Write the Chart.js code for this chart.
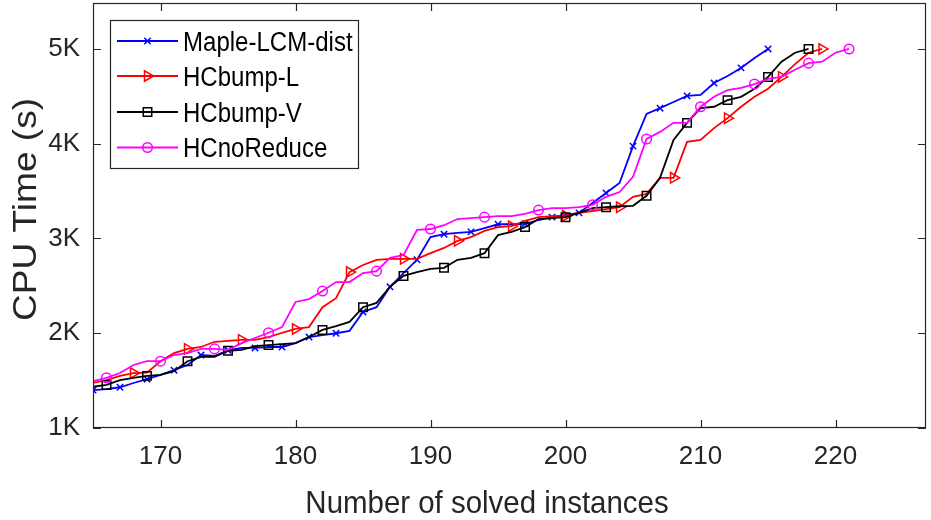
<!DOCTYPE html>
<html><head><meta charset="utf-8">
<script src="https://cdn.jsdelivr.net/npm/chart.js@4.4.1/dist/chart.umd.min.js"></script>
<style>html,body{margin:0;padding:0;background:#fff;overflow:hidden}#wrap{width:931px;height:520px}</style>
</head><body><div id="wrap"><canvas id="c" width="931" height="520"></canvas></div>
<script>
// ---------------- data ----------------
const instances = [165,166,167,168,169,170,171,172,173,174,175,176,177,178,179,180,181,182,183,184,185,186,187,188,189,190,191,192,193,194,195,196,197,198,199,200,201,202,203,204,205,206,207,208,209,210,211,212,213,214,215,216,217,218,219,220,221];
const mapleLCMDist = [1400,1410,1430,1475,1515,1560,1610,1665,1770,1760,1820,1845,1845,1855,1855,1895,1960,1980,2000,2025,2225,2275,2490,2635,2775,3015,3045,3060,3070,3110,3150,3150,3155,3195,3225,3250,3270,3375,3480,3585,3975,4315,4375,4440,4505,4515,4640,4715,4800,4905,5000];
const hcbumpL = [1475,1505,1550,1580,1585,1705,1790,1835,1855,1910,1920,1930,1930,1960,2005,2045,2065,2275,2370,2645,2720,2775,2785,2785,2785,2845,2900,2975,3015,3080,3120,3130,3185,3225,3235,3240,3270,3290,3310,3330,3440,3470,3640,3640,4020,4040,4165,4270,4390,4495,4580,4705,4840,4960,5000];
const hcbumpV = [1435,1455,1505,1530,1550,1560,1600,1705,1750,1750,1815,1825,1865,1875,1885,1895,1960,2035,2075,2120,2275,2320,2490,2605,2645,2680,2690,2775,2795,2845,3035,3070,3120,3205,3215,3225,3270,3320,3330,3340,3345,3450,3640,4040,4220,4375,4390,4460,4495,4580,4705,4865,4960,5000];
const hcnoReduce = [1495,1530,1580,1665,1705,1705,1770,1790,1835,1835,1825,1895,1950,2005,2065,2330,2360,2445,2540,2540,2635,2655,2795,2825,3090,3100,3140,3205,3215,3225,3235,3235,3260,3300,3320,3320,3330,3355,3440,3490,3650,4050,4125,4220,4220,4390,4495,4565,4590,4630,4685,4705,4780,4850,4865,4960,5000];
const seriesNames = ['Maple-LCM-dist','HCbump-L','HCbump-V','HCnoReduce'];
const xTickValues = [170,180,190,200,210,220];
const yTickValues = [1000,2000,3000,4000,5000];
const yTickLabels = ['1K','2K','3K','4K','5K'];
const xTitle = 'Number of solved instances';
const yTitle = 'CPU Time (s)';

// ---------------- styles ----------------
const FONT = "'Liberation Sans', Arial, Helvetica, sans-serif";
const AXIS = '#262626';
const AREA = {left: 93, top: 3, right: 926, bottom: 428};
const styles = [
  {color:'#0000ff', pointStyle:'crossRot', radius:4.5, rotation:0,
   mark:(x,last)=> (x-165)%2===0},
  {color:'#ff0000', pointStyle:'triangle', radius:6, rotation:90,
   mark:(x,last)=> (x-168)%4===0 || x===last},
  {color:'#000000', pointStyle:'rect', radius:6, rotation:0,
   mark:(x,last)=> x<=178 ? (x-166)%3===0 : (x>=182 && (x-182)%3===0)},
  {color:'#ff00ff', pointStyle:'circle', radius:4.8, rotation:0,
   mark:(x,last)=> (x-166)%4===0 || x===last}
];
const seriesValues = [mapleLCMDist, hcbumpL, hcbumpV, hcnoReduce];

const datasets = seriesValues.map((vals, k) => {
  const st = styles[k];
  const pts = vals.map((v, i) => ({x: instances[i], y: v}));
  const last = instances[vals.length - 1];
  return {
    label: seriesNames[k],
    data: pts,
    borderColor: st.color,
    backgroundColor: st.color,
    borderWidth: 1.8,
    tension: 0,
    pointStyle: st.pointStyle,
    pointRotation: st.rotation,
    pointBorderColor: st.color,
    pointBackgroundColor: 'rgba(0,0,0,0)',
    pointBorderWidth: 1.5,
    pointRadius: (c) => (c.raw && st.mark(c.raw.x, last)) ? st.radius : 0,
    pointHoverRadius: 0,
    order: 4 - k
  };
});

function drawScaledText(ctx, text, x, y, sx) {
  ctx.save(); ctx.translate(x, y); ctx.scale(sx, 1); ctx.fillText(text, 0, 0); ctx.restore();
}

const decor = {
  id: 'decor',
  afterDraw(chart) {
    const ctx = chart.ctx, a = chart.chartArea;
    const xs = chart.scales.x, ys = chart.scales.y;
    ctx.save();
    ctx.strokeStyle = AXIS; ctx.lineWidth = 1.2;
    ctx.strokeRect(Math.round(a.left) + 0.5, Math.round(a.top) + 0.5, Math.round(a.right - a.left) - 1, Math.round(a.bottom - a.top) - 1);
    const TL = 8;
    ctx.beginPath();
    xTickValues.forEach(v => {
      const px = Math.round(xs.getPixelForValue(v)) + 0.5;
      ctx.moveTo(px, a.bottom); ctx.lineTo(px, a.bottom - TL);
      ctx.moveTo(px, a.top); ctx.lineTo(px, a.top + TL);
    });
    yTickValues.forEach(v => {
      const py = Math.round(ys.getPixelForValue(v)) + 0.5;
      ctx.moveTo(a.left, py); ctx.lineTo(a.left + TL, py);
      ctx.moveTo(a.right, py); ctx.lineTo(a.right - TL, py);
    });
    ctx.stroke();

    // axis titles
    ctx.fillStyle = AXIS;
    ctx.font = '32px ' + FONT;
    ctx.textAlign = 'center'; ctx.textBaseline = 'alphabetic';
    drawScaledText(ctx, xTitle, 487, 513, 0.92);
    ctx.save();
    ctx.translate(36, 209.5); ctx.rotate(-Math.PI / 2);
    ctx.font = '34px ' + FONT;
    drawScaledText(ctx, yTitle, 0, 0, 1.09);
    ctx.restore();

    // legend
    const L = {x: 110, y: 20, w: 248, h: 148};
    ctx.fillStyle = '#ffffff';
    ctx.fillRect(L.x, L.y, L.w, L.h);
    ctx.strokeStyle = AXIS; ctx.lineWidth = 1.2;
    ctx.strokeRect(L.x + 0.5, L.y + 0.5, L.w, L.h);
    const rows = [41, 76, 112, 147.5];
    ctx.font = '27px ' + FONT;
    ctx.textAlign = 'left';
    seriesNames.forEach((name, k) => {
      const st = styles[k], y = rows[k];
      ctx.strokeStyle = st.color; ctx.lineWidth = 1.8;
      ctx.beginPath(); ctx.moveTo(117, y); ctx.lineTo(178, y); ctx.stroke();
      ctx.lineWidth = 1.5;
      ctx.fillStyle = 'rgba(0,0,0,0)';
      Chart.helpers.drawPoint(ctx, {pointStyle: st.pointStyle, rotation: st.rotation, radius: st.radius, borderWidth: 1.5}, 147.5, y);
      ctx.fillStyle = '#000000';
      drawScaledText(ctx, name, 183, y + 9.5, 0.89);
    });
    ctx.restore();
  }
};

const chart = new Chart(document.getElementById('c'), {
  type: 'line',
  data: {datasets},
  plugins: [decor],
  options: {
    responsive: false, animation: false, devicePixelRatio: 1,
    layout: {autoPadding: false, padding: {top: AREA.top, right: 931 - AREA.right, left: 0, bottom: 0}},
    plugins: {legend: {display: false}, tooltip: {enabled: false}},
    elements: {line: {fill: false}},
    scales: {
      x: {
        type: 'linear', min: 165, max: 226.7,
        afterBuildTicks: s => { s.ticks = xTickValues.map(v => ({value: v})); },
        afterFit: s => { s.height = 520 - AREA.bottom; s.paddingLeft = 0; s.paddingRight = 0; },
        grid: {display: false, drawTicks: false},
        border: {display: false},
        ticks: {padding: 13, color: AXIS, font: {family: FONT, size: 26}, maxRotation: 0, autoSkip: false,
                callback: v => String(v)}
      },
      y: {
        type: 'linear', min: 1000, max: 5485,
        afterBuildTicks: s => { s.ticks = yTickValues.map(v => ({value: v})); },
        afterFit: s => { s.width = AREA.left; s.paddingTop = 0; s.paddingBottom = 0; },
        grid: {display: false, drawTicks: false},
        border: {display: false},
        ticks: {padding: 13, color: AXIS, font: {family: FONT, size: 26}, autoSkip: false,
                callback: v => yTickLabels[yTickValues.indexOf(v)]}
      }
    }
  }
});
</script></body></html>
